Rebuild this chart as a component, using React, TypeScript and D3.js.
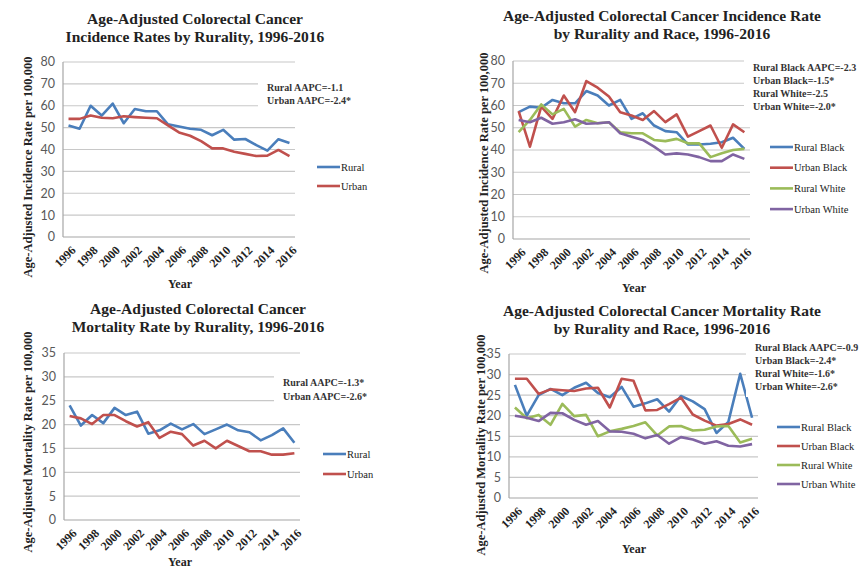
import * as d3 from "d3";
import React, { useEffect, useRef } from "react";

// categories
const years = [
  1996, 1997, 1998, 1999, 2000, 2001, 2002, 2003, 2004, 2005, 2006, 2007,
  2008, 2009, 2010, 2011, 2012, 2013, 2014, 2015, 2016,
];

// incidence by rurality
const ruralIncidence = [51, 49.5, 60, 55.5, 61, 52, 58.5, 57.5, 57.5, 51.5, 50.5, 49.5, 49, 46.5, 49, 44.5, 44.8, 42, 39.5, 44.7, 43];
const urbanIncidence = [54, 54, 55.5, 54.5, 54.3, 55.2, 54.8, 54.5, 54.3, 51, 47.8, 46.3, 43.8, 40.5, 40.5, 39, 38, 37, 37.2, 39.8, 37];

// incidence by rurality and race
const ruralBlackIncidence = [57, 59.5, 59, 62.5, 61, 61, 66.5, 64.5, 60, 62.5, 54, 56.5, 51, 48.5, 48, 42.5, 42.5, 42.8, 43.5, 45.5, 40.5];
const urbanBlackIncidence = [57.5, 41.5, 59.5, 54, 64.5, 57, 71, 68, 64, 57, 55.5, 53.5, 57.5, 52.5, 56, 46, 48.5, 51, 41, 51.5, 48];
const ruralWhiteIncidence = [48, 53.5, 60.5, 56, 58.5, 50.5, 53.5, 52, 52.5, 48, 47.5, 47.5, 44.5, 44, 45, 43, 43, 36.8, 38.5, 40, 40.5];
const urbanWhiteIncidence = [53.5, 52.5, 54.5, 51.8, 52.5, 53.8, 51.8, 52, 52.5, 47.5, 46, 44.5, 41.5, 38, 38.5, 38, 36.8, 35, 35, 38, 36];

// mortality by rurality
const ruralMortality = [24, 19.8, 22, 20.3, 23.5, 22, 22.7, 18.1, 18.8, 20.2, 19, 20.1, 18, 19, 20, 18.8, 18.4, 16.7, 17.8, 19.2, 16.2];
const urbanMortality = [21.8, 21.3, 20.1, 22, 22, 20.7, 19.6, 20.5, 17.2, 18.5, 18, 15.6, 16.6, 15, 16.6, 15.5, 14.4, 14.4, 13.7, 13.7, 14];

// mortality by rurality and race
const ruralBlackMortality = [27.5, 20, 25, 26.5, 25, 26.8, 28, 25.5, 24.5, 27, 22.2, 23, 24, 21, 24.8, 23.5, 21.6, 15.8, 18.5, 30.2, 19.5];
const urbanBlackMortality = [29, 29, 25.3, 26.4, 26.2, 26, 26.6, 26.8, 22, 29, 28.5, 21.3, 21.4, 22.8, 24.4, 20.3, 18.8, 17.6, 18, 19.1, 17.8];
const ruralWhiteMortality = [22, 19.4, 20.2, 17.8, 22.9, 19.9, 20.2, 15, 16.2, 16.8, 17.5, 18.4, 15.2, 17.4, 17.5, 16.4, 16.6, 17.4, 17.5, 13.5, 14.4];
const urbanWhiteMortality = [20, 19.5, 18.7, 20.7, 20.6, 19, 17.8, 18.7, 16.2, 16.1, 15.6, 14.5, 15.3, 13.2, 14.8, 14.2, 13.2, 13.8, 12.7, 12.5, 13.1];

const BLUE = "#4a7ebb";
const RED = "#c0504d";
const GREEN = "#9bbb59";
const PURPLE = "#8064a2";

const SERIF = "'Liberation Serif', 'DejaVu Serif', serif";
const SANS = "Lato, 'Liberation Sans', sans-serif";

interface Series {
  name: string;
  values: number[];
  color: string;
}

interface PanelSpec {
  title: string[];
  titleX: number;
  titleY: number;
  yLabel: string;
  yLabelX: number;
  yLabelY: number;
  yMax: number;
  yStep: number;
  left: number;
  right: number;
  top: number;
  bottom: number;
  series: Series[];
  notes: string[];
  noteX: number;
  noteY: number;
  noteGap: number;
  legendX: number;
  legendY: number;
  legendGap: number;
  yearX: number;
  yearY: number;
}

const panels: PanelSpec[] = [
  {
    title: ["Age-Adjusted Colorectal Cancer", "Incidence Rates by Rurality, 1996-2016"],
    titleX: 195, titleY: 24,
    yLabel: "Age-Adjusted Incidence Rate per 100,000",
    yLabelX: 28, yLabelY: 167,
    yMax: 80, yStep: 10,
    left: 63, right: 295, top: 62, bottom: 237,
    series: [
      { name: "Rural", values: ruralIncidence, color: BLUE },
      { name: "Urban", values: urbanIncidence, color: RED },
    ],
    notes: ["Rural AAPC=-1.1", "Urban AAPC=-2.4*"],
    noteX: 267, noteY: 91, noteGap: 13,
    legendX: 317, legendY: 167, legendGap: 19,
    yearX: 180, yearY: 288,
  },
  {
    title: ["Age-Adjusted Colorectal Cancer Incidence Rate", "by Rurality and Race, 1996-2016"],
    titleX: 662, titleY: 21,
    yLabel: "Age-Adjusted Incidence Rate per 100,000",
    yLabelX: 484, yLabelY: 163,
    yMax: 80, yStep: 10,
    left: 513, right: 750, top: 61, bottom: 239,
    series: [
      { name: "Rural Black", values: ruralBlackIncidence, color: BLUE },
      { name: "Urban Black", values: urbanBlackIncidence, color: RED },
      { name: "Rural White", values: ruralWhiteIncidence, color: GREEN },
      { name: "Urban White", values: urbanWhiteIncidence, color: PURPLE },
    ],
    notes: ["Rural Black AAPC=-2.3", "Urban Black=-1.5*", "Rural White=-2.5", "Urban White=-2.0*"],
    noteX: 753, noteY: 71, noteGap: 13,
    legendX: 770, legendY: 147, legendGap: 20.7,
    yearX: 634, yearY: 292,
  },
  {
    title: ["Age-Adjusted Colorectal Cancer", "Mortality Rate by Rurality, 1996-2016"],
    titleX: 198, titleY: 314,
    yLabel: "Age-Adjusted Mortality Rate per 100,000",
    yLabelX: 28, yLabelY: 442,
    yMax: 35, yStep: 5,
    left: 64, right: 300, top: 353, bottom: 520,
    series: [
      { name: "Rural", values: ruralMortality, color: BLUE },
      { name: "Urban", values: urbanMortality, color: RED },
    ],
    notes: ["Rural AAPC=-1.3*", "Urban AAPC=-2.6*"],
    noteX: 283, noteY: 386, noteGap: 14,
    legendX: 323, legendY: 454, legendGap: 20,
    yearX: 180, yearY: 566,
  },
  {
    title: ["Age-Adjusted Colorectal Cancer Mortality Rate", "by Rurality and Race, 1996-2016"],
    titleX: 662, titleY: 316,
    yLabel: "Age-Adjusted Mortality Rate per 100,000",
    yLabelX: 481, yLabelY: 445,
    yMax: 35, yStep: 5,
    left: 509, right: 758, top: 354, bottom: 498,
    series: [
      { name: "Rural Black", values: ruralBlackMortality, color: BLUE },
      { name: "Urban Black", values: urbanBlackMortality, color: RED },
      { name: "Rural White", values: ruralWhiteMortality, color: GREEN },
      { name: "Urban White", values: urbanWhiteMortality, color: PURPLE },
    ],
    notes: ["Rural Black AAPC=-0.9", "Urban Black=-2.4*", "Rural White=-1.6*", "Urban White=-2.6*"],
    noteX: 755, noteY: 351, noteGap: 13,
    legendX: 777, legendY: 427, legendGap: 19,
    yearX: 634, yearY: 553,
  },
];

const App: React.FC = () => {
  const svgRef = useRef<SVGSVGElement>(null);

  useEffect(() => {
    if (!svgRef.current) return;
    document.body.style.margin = "0";

    const svg = d3.select(svgRef.current);
    svg.selectAll("*").remove();

    svg.append("rect").attr("width", 860).attr("height", 570).attr("fill", "#fff");

    panels.forEach((p) => {
      const g = svg.append("g");

      const x = d3.scalePoint<number>().domain(years).range([p.left, p.right]).padding(0.5);
      const y = d3.scaleLinear().domain([0, p.yMax]).range([p.bottom, p.top]);
      const ticks = d3.range(0, p.yMax + p.yStep, p.yStep);

      // gridlines
      g.selectAll(".grid")
        .data(ticks)
        .join("line")
        .attr("x1", p.left)
        .attr("x2", p.right)
        .attr("y1", (d) => y(d))
        .attr("y2", (d) => y(d))
        .attr("stroke", (d) => (d === 0 ? "#a6a6a6" : "#c8c8c8"))
        .attr("stroke-width", 1.2);

      // y axis line
      g.append("line")
        .attr("x1", p.left)
        .attr("x2", p.left)
        .attr("y1", p.top)
        .attr("y2", p.bottom)
        .attr("stroke", "#a6a6a6")
        .attr("stroke-width", 1.2);

      // y tick labels
      g.selectAll(".ytick")
        .data(ticks)
        .join("text")
        .attr("x", p.left - 8)
        .attr("y", (d) => y(d))
        .attr("dy", "0.35em")
        .attr("text-anchor", "end")
        .attr("font-family", SANS)
        .attr("font-size", 12.5)
        .attr("fill", "#595959")
        .text((d) => d);

      // x tick labels
      g.selectAll(".xtick")
        .data(years.filter((d, i) => i % 2 === 0))
        .join("text")
        .attr("transform", (d) => `translate(${(x(d) || 0) + 5},${p.bottom + 11}) rotate(-45)`)
        .attr("text-anchor", "end")
        .attr("dy", "0.35em")
        .attr("font-family", SERIF)
        .attr("font-weight", "bold")
        .attr("font-size", 12)
        .attr("fill", "#222")
        .text((d) => d);

      // lines
      const line = d3
        .line<number>()
        .x((d, i) => x(years[i]) || 0)
        .y((d) => y(d));

      g.selectAll(".series")
        .data(p.series)
        .join("path")
        .attr("fill", "none")
        .attr("stroke", (d) => d.color)
        .attr("stroke-width", 2.6)
        .attr("stroke-linejoin", "round")
        .attr("d", (d) => line(d.values) || "");

      // annotation box (covers gridlines)
      g.append("rect")
        .attr("x", Math.min(p.noteX - 9, p.right - 5))
        .attr("y", p.noteY - 13)
        .attr("width", 110)
        .attr("height", p.noteGap * (p.notes.length - 1) + 20)
        .attr("fill", "#fff");

      g.selectAll(".note")
        .data(p.notes)
        .join("text")
        .attr("x", p.noteX)
        .attr("y", (d, i) => p.noteY + i * p.noteGap)
        .attr("font-family", SERIF)
        .attr("font-weight", "bold")
        .attr("font-size", 10)
        .attr("fill", "#333")
        .text((d) => d);

      // legend
      const leg = g
        .selectAll(".legend")
        .data(p.series)
        .join("g")
        .attr("transform", (d, i) => `translate(${p.legendX},${p.legendY + i * p.legendGap})`);
      leg.append("line")
        .attr("x1", 0)
        .attr("x2", 23)
        .attr("stroke", (d) => d.color)
        .attr("stroke-width", 2.6);
      leg.append("text")
        .attr("x", 24)
        .attr("dy", "0.35em")
        .attr("font-family", SERIF)
        .attr("font-size", 10.5)
        .attr("fill", "#222")
        .text((d) => d.name);

      // titles
      g.selectAll(".title")
        .data(p.title)
        .join("text")
        .attr("x", p.titleX)
        .attr("y", (d, i) => p.titleY + i * 18)
        .attr("text-anchor", "middle")
        .attr("font-family", SERIF)
        .attr("font-weight", "bold")
        .attr("font-size", 15.5)
        .attr("fill", "#222")
        .text((d) => d);

      // axis titles
      g.append("text")
        .attr("transform", `translate(${p.yLabelX},${p.yLabelY}) rotate(-90)`)
        .attr("text-anchor", "middle")
        .attr("dy", "0.35em")
        .attr("font-family", SERIF)
        .attr("font-weight", "bold")
        .attr("font-size", 12.5)
        .attr("fill", "#222")
        .text(p.yLabel);

      g.append("text")
        .attr("x", p.yearX)
        .attr("y", p.yearY)
        .attr("text-anchor", "middle")
        .attr("font-family", SERIF)
        .attr("font-weight", "bold")
        .attr("font-size", 12)
        .attr("fill", "#222")
        .text("Year");
    });
  }, []);

  return (
    <svg
      ref={svgRef}
      width={860}
      height={570}
      style={{ position: "absolute", left: 0, top: 0, display: "block" }}
    />
  );
};

export default App;
